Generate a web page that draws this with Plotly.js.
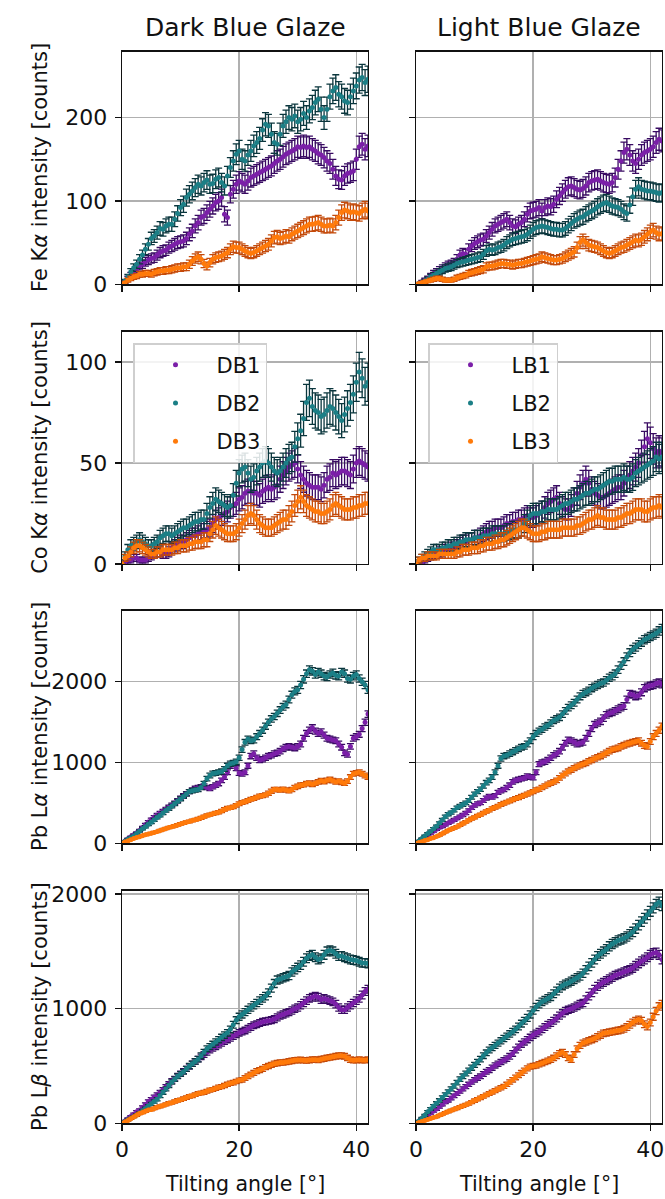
<!DOCTYPE html>
<html>
<head>
<meta charset="utf-8">
<script src="https://cdn.plot.ly/plotly-3.0.1.min.js"></script>
<style>html,body{margin:0;padding:0;background:#fff;}#chart{width:665px;height:1199px;}</style>
</head>
<body>
<div id="chart"></div>
<script>
// Tilting angle [deg]
const ANGLE = [0,0.5,1,1.5,2,2.5,3,3.5,4,4.5,5,5.5,6,6.5,7,7.5,8,8.5,9,9.5,10,10.5,11,11.5,12,12.5,13,13.5,14,14.5,15,15.5,16,16.5,17,17.5,18,18.5,19,19.5,20,20.5,21,21.5,22,22.5,23,23.5,24,24.5,25,25.5,26,26.5,27,27.5,28,28.5,29,29.5,30,30.5,31,31.5,32,32.5,33,33.5,34,34.5,35,35.5,36,36.5,37,37.5,38,38.5,39,39.5,40,40.5,41,41.5,42];

const COL_TITLES = ["Dark Blue Glaze", "Light Blue Glaze"];
const ROW_TITLES = ["Fe K<i>α</i> intensity [counts]", "Co K<i>α</i> intensity [counts]", "Pb L<i>α</i> intensity [counts]", "Pb L<i>β</i> intensity [counts]"];
const X_TITLE = "Tilting angle [°]";
const NAMES_DB = ["DB1", "DB2", "DB3"];
const NAMES_LB = ["LB1", "LB2", "LB3"];

// Fe Ka
const FE_DB1 = [0,3,7,11,15,18,22,24,27,29, 31,32,35,38,40,41,44,46,48,50, 51,52,55,60,64,70,74,80,82,86, 90,94,98,100,104,84,80,108,114,120, 124,122,120,124,128,130,132,134,136,138, 140,142,145,148,150,153,156,158,160,162, 165,164,166,164,165,162,160,157,155,152, 148,145,138,130,126,125,130,133,134,136, 150,165,168,162,166];
const FE_DB2 = [0,4,9,15,20,24,30,35,42,48, 55,58,62,67,66,70,72,72,78,85, 92,96,104,108,112,116,120,118,122,125, 120,121,126,128,122,118,130,140,148,156, 160,150,148,155,160,166,170,175,185,192, 190,180,170,168,180,190,195,200,198,202, 195,198,205,200,208,212,218,222,210,200, 210,225,232,236,228,225,220,218,225,232, 238,245,248,242,246];
const FE_DB3 = [0,2,5,7,9,10,12,12,13,13, 12,14,15,16,16,17,17,18,19,20, 20,21,21,24,28,31,33,30,25,22, 26,30,32,33,34,36,38,42,45,44, 44,42,40,38,37,38,40,42,44,46, 48,52,56,57,55,56,58,57,60,62, 64,66,68,70,72,72,73,74,72,70, 70,71,70,74,80,86,89,88,86,87, 86,85,88,90,88];
const FE_LB1 = [0,1,3,5,7,10,13,15,17,19, 21,23,24,26,30,35,37,36,42,46, 49,51,53,54,58,62,66,70,72,74, 76,78,74,70,69,72,74,78,84,88, 89,90,92,88,92,94,93,96,102,106, 110,114,117,118,116,114,113,115,118,122, 124,125,126,124,122,121,120,122,128,138, 148,158,162,155,148,145,150,155,158,160, 162,165,170,174,172];
const FE_LB2 = [0,1,2,4,6,9,11,13,15,17, 19,20,21,23,25,26,27,28,29,30, 31,32,33,36,40,42,41,42,44,45, 47,50,52,54,55,56,57,58,60,63, 66,68,69,70,69,68,67,66,66,65, 65,67,70,73,76,78,80,81,84,86, 88,90,93,95,97,98,96,94,93,92, 90,87,85,95,105,114,117,114,113,112, 112,111,110,109,110];
const FE_LB3 = [0,1,2,3,4,5,6,7,7,6, 5,5,5,6,8,9,10,11,13,14, 15,16,17,18,21,22,22,23,24,25, 25,24,24,23,24,25,25,26,27,28, 29,30,31,33,32,31,30,29,29,30, 31,33,35,37,39,44,50,53,50,47, 46,45,44,42,40,38,37,38,40,42, 44,45,47,49,51,53,52,54,57,60, 63,65,62,60,61];

// Co Ka
const CO_DB1 = [0,1,2,2,3,3,2,2,2,3, 4,5,6,6,5,5,6,8,9,10, 11,11,12,13,14,14,15,16,17,17, 18,20,22,23,24,25,26,28,29,30, 32,33,35,36,36,35,35,34,36,37, 38,37,38,39,42,44,46,48,49,50, 47,44,42,40,39,38,38,38,37,39, 42,43,45,44,45,46,46,45,44,47, 50,51,50,49,48];
const CO_DB2 = [0,4,7,9,10,11,12,11,10,9, 9,10,11,13,14,15,15,14,15,16, 17,18,18,19,20,21,21,22,22,25, 28,30,32,31,30,29,28,29,34,40, 45,47,48,45,42,43,46,48,50,51, 50,48,46,45,46,48,50,52,53,58, 62,66,72,80,82,78,76,75,73,74, 76,78,77,75,73,71,74,77,80,84, 90,95,92,88,90];
const CO_DB3 = [0,3,4,6,8,9,9,8,7,6, 5,5,6,6,7,7,7,7,8,8, 9,9,9,10,10,11,11,11,12,12, 15,17,19,18,17,16,15,15,15,16, 18,20,22,24,25,24,22,20,19,18, 18,18,19,20,21,22,22,24,26,29, 31,33,31,29,28,27,26,26,25,25, 26,27,29,30,29,28,27,27,27,28, 28,29,29,30,30];
const CO_LB1 = [0,1,1,2,3,4,5,5,6,6, 7,7,8,8,9,10,11,11,12,12, 13,13,14,15,16,17,17,18,18,18, 19,20,20,21,21,22,22,23,24,23, 23,24,25,26,28,30,31,32,33,30, 28,27,27,29,32,35,38,40,42,40, 37,35,34,33,33,34,35,36,37,38, 38,40,42,44,46,48,50,54,58,62, 60,57,55,56,55];
const CO_LB2 = [0,2,3,4,5,6,7,7,7,8, 8,9,9,10,10,11,11,12,12,12, 13,13,13,14,14,14,15,15,15,15, 15,16,16,17,17,17,18,20,22,24, 25,25,25,26,26,27,27,27,27,28, 29,30,30,31,32,32,33,34,35,35, 36,37,37,38,39,40,41,41,42,42, 42,43,42,42,43,45,46,47,48,49, 50,51,53,52,53];
const CO_LB3 = [0,2,3,3,4,4,4,4,5,5, 5,5,5,5,6,6,7,7,7,8, 8,8,9,9,10,10,10,11,11,12, 12,13,14,15,16,17,18,18,17,16, 15,15,15,16,16,17,17,17,17,17, 18,18,18,18,18,19,19,20,21,22, 22,23,24,23,23,22,22,22,22,23, 23,24,25,25,26,27,27,27,26,26, 27,28,28,29,28];

// Pb La
const PBA_DB1 = [0,28,55,80,105,130,160,195,230,265, 295,325,350,375,400,425,450,475,500,530, 560,590,615,640,660,680,690,700,710,690, 680,700,720,740,780,820,880,960,990,930, 870,860,880,960,1080,1110,1060,1030,1040,1060, 1080,1090,1110,1120,1140,1170,1190,1200,1190,1180, 1200,1230,1300,1360,1400,1430,1390,1360,1380,1340, 1300,1290,1280,1270,1230,1190,1120,1100,1200,1300, 1320,1350,1420,1500,1600];
const PBA_DB2 = [0,25,50,70,90,120,150,180,205,235, 260,290,320,345,375,405,430,460,490,520, 550,580,610,640,650,660,665,690,740,800, 840,865,870,880,890,920,960,985,995,1010, 1060,1160,1250,1290,1270,1280,1320,1360,1400,1450, 1500,1540,1570,1610,1650,1690,1720,1780,1840,1880, 1900,1960,2030,2100,2150,2130,2090,2120,2100,2070, 2060,2090,2110,2080,2070,2120,2100,2040,2030,2070, 2090,2040,2000,1960,1900];
const PBA_DB3 = [0,15,30,45,60,72,82,95,105,115, 125,135,145,158,170,182,195,205,215,228, 240,250,262,270,282,292,302,315,330,345, 355,365,375,385,400,420,435,440,450,470, 490,505,515,530,545,555,570,585,590,600, 620,645,665,665,660,670,660,650,665,690, 705,720,725,740,745,730,745,760,775,765, 780,790,775,760,770,755,745,770,820,860, 870,880,860,840,820];
const PBA_LB1 = [0,25,50,75,100,125,150,175,195,210, 230,250,270,290,310,330,350,375,405,440, 470,490,500,530,560,580,570,590,630,650, 665,690,720,760,780,790,800,810,830,820, 815,880,980,1000,1010,1030,1060,1090,1110,1140, 1190,1240,1280,1270,1250,1230,1240,1250,1300,1360, 1420,1470,1490,1510,1550,1590,1610,1620,1640,1660, 1680,1700,1780,1850,1840,1820,1830,1870,1920,1940, 1950,1960,1980,1990,1970];
const PBA_LB2 = [0,30,60,90,120,150,180,210,250,290, 330,360,380,410,440,460,480,500,530,570, 610,640,670,710,750,780,820,880,960,1050, 1080,1090,1110,1130,1150,1170,1190,1200,1230,1270, 1320,1360,1390,1410,1440,1460,1490,1520,1540,1560, 1600,1640,1680,1710,1740,1780,1820,1850,1870,1890, 1920,1940,1960,1980,1990,2020,2050,2070,2100,2150, 2200,2250,2310,2360,2400,2430,2460,2490,2520,2540, 2560,2580,2600,2630,2660];
const PBA_LB3 = [0,10,20,35,45,60,70,85,100,120, 140,160,175,190,205,225,245,265,285,305, 320,340,355,375,395,410,430,445,460,480, 495,510,525,540,555,565,580,595,610,625, 640,660,670,690,710,730,745,760,780,810, 840,865,890,910,930,950,965,980,995,1015, 1030,1050,1065,1080,1100,1120,1140,1160,1170,1180, 1200,1215,1230,1240,1250,1260,1270,1240,1210,1200, 1260,1320,1360,1400,1450];

// Pb Lb
const PBB_DB1 = [0,20,40,60,80,100,115,140,165,190, 210,230,250,270,295,320,345,370,390,415, 435,455,475,495,520,540,560,580,600,620, 640,655,670,685,700,715,730,745,760,775, 790,800,810,825,840,855,865,875,885,890, 895,900,910,925,940,950,960,970,985,1000, 1010,1030,1050,1070,1090,1100,1110,1100,1080,1090, 1080,1070,1060,1040,1010,990,990,1010,1030,1050, 1070,1090,1120,1150,1170];
const PBB_DB2 = [0,15,30,45,60,75,90,110,130,150, 170,190,210,240,270,300,330,360,385,410, 430,450,475,500,520,540,560,590,620,650, 670,690,710,730,750,770,790,820,860,900, 930,950,970,990,1010,1030,1050,1070,1090,1110, 1140,1180,1220,1250,1260,1270,1280,1290,1320,1340, 1360,1380,1410,1440,1460,1470,1450,1430,1440,1470, 1500,1510,1500,1480,1460,1460,1450,1440,1430,1425, 1420,1410,1400,1400,1395];
const PBB_DB3 = [0,12,25,40,55,70,85,95,105,115, 120,130,140,148,155,165,175,180,190,200, 205,215,225,235,240,250,260,265,270,280, 290,295,305,315,320,330,340,350,355,365, 375,380,395,410,425,440,455,465,475,490, 500,510,520,525,530,530,535,540,545,550, 552,553,550,548,552,555,555,553,560,565, 570,575,580,585,590,590,585,570,555,550, 552,555,552,550,555];
const PBB_LB1 = [0,18,36,55,72,90,108,125,145,165, 185,200,220,240,260,280,300,320,340,360, 380,395,410,430,450,465,485,505,520,535, 550,565,585,610,640,665,690,710,730,750, 770,785,800,820,840,860,875,895,915,940, 960,980,990,1000,1010,1025,1040,1050,1080,1110, 1140,1170,1195,1215,1230,1245,1260,1275,1290,1300, 1310,1320,1330,1340,1355,1375,1395,1415,1430,1450, 1470,1485,1490,1470,1430];
const PBB_LB2 = [0,20,45,70,100,125,150,175,200,225, 250,275,300,325,355,385,410,435,460,485, 510,535,560,590,615,640,660,680,700,720, 740,760,780,800,820,845,870,895,920,950, 985,1015,1040,1060,1075,1090,1105,1130,1155,1180, 1200,1215,1225,1240,1255,1270,1285,1310,1340,1370, 1400,1430,1460,1480,1500,1520,1545,1565,1580,1595, 1605,1615,1630,1650,1670,1700,1730,1760,1790,1820, 1850,1880,1910,1930,1900];
const PBB_LB3 = [0,8,16,25,33,42,50,58,70,80, 92,102,112,122,132,142,152,162,172,185, 198,210,222,235,248,260,272,285,298,310, 322,340,360,380,400,420,440,460,480,495, 500,505,515,525,535,545,555,570,590,610, 620,600,570,555,600,650,680,700,710,720, 730,740,755,770,785,790,795,800,805,810, 815,825,840,860,880,895,905,895,865,845, 880,930,980,1020,1040];

const PANELS = [
  [[FE_DB1, FE_DB2, FE_DB3], [FE_LB1, FE_LB2, FE_LB3]],
  [[CO_DB1, CO_DB2, CO_DB3], [CO_LB1, CO_LB2, CO_LB3]],
  [[PBA_DB1, PBA_DB2, PBA_DB3], [PBA_LB1, PBA_LB2, PBA_LB3]],
  [[PBB_DB1, PBB_DB2, PBB_DB3], [PBB_LB1, PBB_LB2, PBB_LB3]]
];
const Y_MAX = [279, 115, 2880, 2030];
const Y_DTICK = [100, 50, 1000, 1000];

// styling
const W = 665, H = 1199;
const MARKER = ['#7b1fa8', '#1b7f86', '#ff7a0a'];
const ERRCOL = ['#380a62', '#0a363d', '#c44a0a'];
const FONT = '"DejaVu Sans", sans-serif';
const XPIX = [[122, 368], [416, 662]];
const YPIX = [[51.7, 284.3], [331.7, 564], [610.7, 843.3], [890.7, 1123.3]];

const data = [];
function legendCfg(x) {
  return {
    x: x, y: 1 - 343 / H, xanchor: 'left', yanchor: 'top',
    bgcolor: 'rgba(255,255,255,0.85)', bordercolor: '#cfcfcf', borderwidth: 1.5,
    font: {family: FONT, size: 21, color: '#111'},
    traceorder: 'grouped', tracegroupgap: 8,
    itemwidth: 72, indentation: 0
  };
}
const layout = {
  width: W, height: H,
  margin: {l: 0, r: 0, t: 0, b: 0},
  paper_bgcolor: '#ffffff', plot_bgcolor: '#ffffff',
  font: {family: FONT, size: 21, color: '#111'},
  showlegend: true,
  annotations: [],
  legend: legendCfg(133 / W),
  legend2: legendCfg(428 / W)
};

for (let r = 0; r < 4; r++) {
  for (let c = 0; c < 2; c++) {
    const idx = r * 2 + c + 1;
    const xa = 'xaxis' + (idx === 1 ? '' : idx);
    const ya = 'yaxis' + (idx === 1 ? '' : idx);
    const xid = 'x' + (idx === 1 ? '' : idx);
    const yid = 'y' + (idx === 1 ? '' : idx);
    layout[xa] = {
      domain: [XPIX[c][0] / W, XPIX[c][1] / W], anchor: yid,
      range: [0, 42], dtick: 20, tick0: 0,
      showgrid: true, gridcolor: '#b0b0b0', gridwidth: 1.3, zeroline: false,
      showline: true, linecolor: '#111', linewidth: 1.3, mirror: true,
      ticks: 'outside', ticklen: 6, tickwidth: 1.3, tickcolor: '#111',
      showticklabels: r === 3, tickfont: {family: FONT, size: 22, color: '#111'}
    };
    layout[ya] = {
      domain: [1 - YPIX[r][1] / H, 1 - YPIX[r][0] / H], anchor: xid,
      range: [0, Y_MAX[r]], dtick: Y_DTICK[r], tick0: 0,
      showgrid: true, gridcolor: '#b0b0b0', gridwidth: 1.3, zeroline: false,
      showline: true, linecolor: '#111', linewidth: 1.3, mirror: true,
      ticks: 'outside', ticklen: 6, tickwidth: 1.3, tickcolor: '#111',
      ticklabelstandoff: 3,
      showticklabels: c === 0, tickfont: {family: FONT, size: 22, color: '#111'}
    };
    const names = c === 0 ? NAMES_DB : NAMES_LB;
    for (let s = 0; s < 3; s++) {
      const tr = {
        type: 'scatter', mode: 'markers',
        x: ANGLE, y: PANELS[r][c][s],
        xaxis: xid, yaxis: yid,
        name: names[s], legendgroup: names[s],
        showlegend: r === 1,
        marker: {color: MARKER[s], size: 5},
        error_y: {type: 'sqrt', visible: true, color: ERRCOL[s], thickness: 1.3, width: 3.5},
        hoverinfo: 'skip'
      };
      if (c === 1) tr.legend = 'legend2';
      data.push(tr);
    }
  }
}

// column titles and x titles
for (let c = 0; c < 2; c++) {
  layout.annotations.push({
    text: COL_TITLES[c], xref: 'paper', yref: 'paper',
    x: (XPIX[c][0] + XPIX[c][1]) / 2 / W, y: 1 - 28 / H,
    xanchor: 'center', yanchor: 'middle', showarrow: false,
    font: {family: FONT, size: 25, color: '#111'}
  });
  layout.annotations.push({
    text: X_TITLE, xref: 'paper', yref: 'paper',
    x: (XPIX[c][0] + XPIX[c][1]) / 2 / W, y: 1 - 1184 / H,
    xanchor: 'center', yanchor: 'middle', showarrow: false,
    font: {family: FONT, size: 20.5, color: '#111'}
  });
}
// row titles
for (let r = 0; r < 4; r++) {
  layout.annotations.push({
    text: ROW_TITLES[r], xref: 'paper', yref: 'paper',
    x: 40 / W, y: 1 - (YPIX[r][0] + YPIX[r][1]) / 2 / H,
    xanchor: 'center', yanchor: 'middle', textangle: -90, showarrow: false,
    font: {family: FONT, size: 21, color: '#111'}
  });
}

Plotly.newPlot('chart', data, layout, {staticPlot: true, displayModeBar: false});
</script>
</body>
</html>
